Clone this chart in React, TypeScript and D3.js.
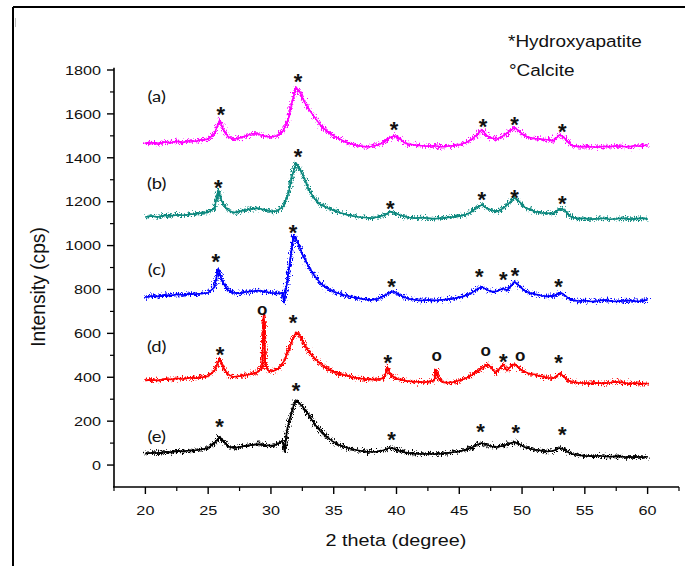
import React from 'react';
import * as d3 from 'd3';

// ---------- data ----------
const X_TICKS = [20, 25, 30, 35, 40, 45, 50, 55, 60];
const Y_TICKS = [0, 200, 400, 600, 800, 1000, 1200, 1400, 1600, 1800];
const SERIES_NAMES = ['(a)', '(b)', '(c)', '(d)', '(e)'];
const SERIES_COLORS = ['#ff00ff', '#0b887e', '#0000ff', '#ff0000', '#000000'];

const seriesA: [number, number][] = [
  [20, 1465], [20.5, 1470], [21, 1462], [21.5, 1472], [22, 1468], [22.5, 1475], [23, 1470], [23.5, 1478], [24, 1475], [24.5, 1482],
  [25, 1485], [25.5, 1510], [25.9, 1570], [26.2, 1530], [26.6, 1495], [27, 1485], [27.5, 1490], [28, 1500], [28.5, 1510], [29, 1508],
  [29.5, 1498], [30, 1495], [30.5, 1500], [31, 1525], [31.4, 1580], [31.7, 1660], [32, 1720], [32.3, 1700], [32.7, 1650], [33.1, 1615],
  [33.6, 1575], [34, 1545], [34.5, 1520], [35, 1500], [35.5, 1485], [36, 1470], [36.5, 1462], [37, 1455], [37.5, 1450], [38, 1452],
  [38.5, 1458], [39, 1470], [39.4, 1490], [39.8, 1500], [40.2, 1490], [40.6, 1470], [41, 1462], [41.5, 1458], [42, 1455], [42.5, 1452],
  [43, 1455], [43.5, 1450], [44, 1452], [44.5, 1455], [45, 1460], [45.5, 1468], [46, 1485], [46.4, 1505], [46.8, 1528], [47.2, 1500],
  [47.6, 1490], [48, 1485], [48.5, 1500], [49, 1520], [49.4, 1538], [49.8, 1520], [50.2, 1500], [50.6, 1492], [51, 1488], [51.5, 1485],
  [52, 1482], [52.5, 1478], [53, 1505], [53.3, 1495], [53.7, 1470], [54, 1455], [54.5, 1450], [55, 1452], [55.5, 1450], [56, 1448],
  [56.5, 1452], [57, 1450], [57.5, 1455], [58, 1452], [58.5, 1450], [59, 1455], [59.5, 1452], [60, 1460],
];

const seriesB: [number, number][] = [
  [20, 1130], [20.5, 1135], [21, 1130], [21.5, 1138], [22, 1135], [22.5, 1140], [23, 1138], [23.5, 1142], [24, 1145], [24.5, 1148],
  [25, 1152], [25.5, 1170], [25.8, 1250], [26.1, 1200], [26.5, 1165], [27, 1150], [27.5, 1155], [28, 1162], [28.5, 1168], [29, 1170],
  [29.5, 1162], [30, 1155], [30.5, 1158], [31, 1180], [31.4, 1240], [31.7, 1320], [32, 1375], [32.3, 1350], [32.7, 1300], [33.1, 1245],
  [33.6, 1205], [34, 1185], [34.5, 1172], [35, 1160], [35.5, 1150], [36, 1142], [36.5, 1135], [37, 1130], [37.5, 1128], [38, 1125],
  [38.5, 1130], [39, 1138], [39.5, 1155], [39.9, 1148], [40.3, 1138], [41, 1128], [41.5, 1125], [42, 1128], [42.5, 1125], [43, 1122],
  [43.5, 1125], [44, 1128], [44.5, 1130], [45, 1135], [45.5, 1140], [46, 1155], [46.4, 1175], [46.8, 1185], [47.2, 1170], [47.6, 1160],
  [48, 1155], [48.5, 1170], [49, 1195], [49.4, 1218], [49.8, 1200], [50.2, 1175], [50.6, 1165], [51, 1155], [51.5, 1150], [52, 1148],
  [52.5, 1145], [53, 1168], [53.3, 1165], [53.7, 1140], [54, 1128], [54.5, 1122], [55, 1125], [55.5, 1120], [56, 1122], [56.5, 1125],
  [57, 1120], [57.5, 1122], [58, 1125], [58.5, 1120], [59, 1122], [59.5, 1125], [60, 1122],
];

const seriesC: [number, number][] = [
  [20, 765], [20.5, 770], [21, 768], [21.5, 775], [22, 772], [22.5, 778], [23, 775], [23.5, 780], [24, 778], [24.5, 782],
  [25, 785], [25.5, 810], [25.8, 895], [26.1, 840], [26.5, 800], [27, 785], [27.5, 782], [28, 788], [28.5, 792], [29, 795],
  [29.5, 790], [30, 785], [30.5, 782], [30.9, 785], [31.05, 740], [31.2, 800], [31.5, 920], [31.8, 1045], [32.1, 1020], [32.5, 960],
  [33, 905], [33.5, 860], [34, 825], [34.5, 805], [35, 790], [35.5, 780], [36, 772], [36.5, 765], [37, 760], [37.5, 755],
  [38, 752], [38.5, 758], [39, 770], [39.4, 785], [39.8, 790], [40.2, 778], [40.6, 765], [41, 758], [41.5, 752], [42, 750],
  [42.5, 752], [43, 750], [43.5, 752], [44, 755], [44.5, 758], [45, 765], [45.5, 772], [46, 785], [46.5, 805], [46.8, 812],
  [47.2, 798], [47.6, 790], [48, 792], [48.5, 805], [48.8, 795], [49.1, 815], [49.4, 835], [49.8, 815], [50.2, 795], [50.6, 785],
  [51, 778], [51.5, 772], [52, 768], [52.5, 770], [53, 785], [53.3, 778], [53.7, 760], [54, 752], [54.5, 748], [55, 750],
  [55.5, 745], [56, 748], [56.5, 752], [57, 748], [57.5, 745], [58, 748], [58.5, 750], [59, 746], [59.5, 748], [60, 752],
];

const seriesD: [number, number][] = [
  [20, 385], [20.5, 388], [21, 385], [21.5, 392], [22, 390], [22.5, 395], [23, 392], [23.5, 398], [24, 395], [24.5, 400],
  [25, 405], [25.5, 430], [25.9, 485], [26.2, 445], [26.6, 412], [27, 402], [27.5, 405], [28, 410], [28.5, 415], [29, 425],
  [29.3, 445], [29.42, 685], [29.55, 460], [29.8, 430], [30.2, 428], [30.6, 440], [31, 470], [31.4, 520], [31.7, 570], [32, 605],
  [32.3, 590], [32.7, 545], [33.1, 510], [33.6, 480], [34, 460], [34.5, 440], [35, 425], [35.5, 415], [36, 408], [36.5, 400],
  [37, 395], [37.5, 392], [38, 390], [38.5, 392], [39, 395], [39.3, 445], [39.45, 420], [39.8, 400], [40.2, 390], [41, 382],
  [41.5, 380], [42, 378], [42.5, 380], [43, 385], [43.15, 435], [43.35, 395], [43.7, 378], [44, 375], [44.5, 378], [45, 385],
  [45.5, 395], [46, 410], [46.5, 430], [47, 450], [47.3, 458], [47.6, 440], [47.9, 420], [48.2, 440], [48.5, 458], [48.8, 430],
  [49.1, 450], [49.4, 460], [49.7, 445], [50, 430], [50.5, 418], [51, 412], [51.5, 405], [52, 398], [52.5, 395], [53, 418],
  [53.3, 405], [53.7, 385], [54, 378], [54.5, 375], [55, 374], [55.5, 372], [56, 374], [56.5, 372], [57, 375], [57.5, 380],
  [58, 376], [58.5, 372], [59, 374], [59.5, 370], [60, 372],
];

const seriesE: [number, number][] = [
  [20, 52], [20.5, 56], [21, 54], [21.5, 60], [22, 58], [22.5, 64], [23, 62], [23.5, 66], [24, 68], [24.5, 72],
  [25, 78], [25.5, 100], [25.9, 128], [26.2, 110], [26.6, 85], [27, 78], [27.5, 82], [28, 88], [28.5, 92], [29, 95],
  [29.5, 90], [30, 88], [30.5, 95], [30.9, 110], [31.1, 60], [31.25, 150], [31.5, 210], [31.8, 270], [32, 295], [32.3, 280],
  [32.6, 260], [33, 230], [33.5, 185], [34, 150], [34.5, 125], [35, 105], [35.5, 90], [36, 80], [36.5, 72], [37, 66],
  [37.5, 62], [38, 60], [38.5, 62], [39, 68], [39.4, 78], [39.8, 75], [40.2, 65], [40.6, 58], [41, 55], [41.5, 52],
  [42, 50], [42.5, 52], [43, 50], [43.5, 52], [44, 55], [44.5, 58], [45, 62], [45.5, 70], [46, 80], [46.5, 95],
  [46.8, 100], [47.2, 92], [47.6, 85], [48, 82], [48.5, 88], [49, 98], [49.4, 105], [49.8, 95], [50.2, 82], [50.6, 75],
  [51, 70], [51.5, 66], [52, 62], [52.5, 65], [53, 78], [53.3, 72], [53.7, 58], [54, 50], [54.5, 45], [55, 42],
  [55.5, 40], [56, 42], [56.5, 40], [57, 38], [57.5, 40], [58, 38], [58.5, 36], [59, 38], [59.5, 36], [60, 38],
];

const SERIES = [seriesA, seriesB, seriesC, seriesD, seriesE];

// label anchors (angle, intensity)
const NAME_ANCHORS: [number, number][] = [[20.9, 1681], [20.9, 1285], [20.9, 889], [20.9, 542], [20.9, 128]];

// hydroxyapatite (*) markers, (angle, intensity)
const HAP_MARKERS: [number, number][] = [
  [26.0, 1617], [32.15, 1768], [39.8, 1549], [46.9, 1563], [49.4, 1572], [53.2, 1540],
  [25.8, 1285], [32.15, 1426], [39.5, 1189], [46.8, 1230], [49.4, 1239], [53.2, 1212],
  [25.6, 948], [31.75, 1080], [39.6, 834], [46.6, 879], [48.5, 866], [49.45, 884], [52.9, 834],
  [25.95, 524], [31.75, 670], [39.3, 488], [48.5, 492], [52.9, 488],
  [25.9, 196], [32.0, 360], [39.6, 137], [46.7, 173], [49.5, 169], [53.2, 160],
];
// calcite (o) markers
const CAL_MARKERS: [number, number][] = [[29.3, 706], [43.2, 497], [47.1, 519], [49.85, 497]];

const LEGEND_LINES = ['*Hydroxyapatite', '°Calcite'];
const X_TITLE = '2 theta (degree)';
const Y_TITLE = 'Intensity (cps)';

// ---------- chart ----------
const W = 685;
const H = 566;
const FONT = '"Liberation Sans", Arial, sans-serif';
const SX = 1.2; // horizontal stretch of the source figure's text

function SText(props: {
  x: number; y: number; size: number; anchor?: string; children: React.ReactNode;
  weight?: string | number; family?: string; fill?: string; sx?: number;
}) {
  const { x, y, size, anchor = 'start', children, weight = 'normal', family = FONT, fill = '#111', sx = SX } = props;
  return (
    <text transform={`translate(${x},${y}) scale(${sx},1)`} fontSize={size} textAnchor={anchor as any}
      fontFamily={family} fontWeight={weight as any} fill={fill}>
      {children}
    </text>
  );
}

export default function App() {
  const x = d3.scaleLinear().domain([17.5, 62.5]).range([114, 679]);
  const y = d3.scaleLinear().domain([-100, 1800]).range([487, 70]);
  const line = d3.line<[number, number]>().x(d => x(d[0])).y(d => y(d[1])).curve(d3.curveLinear);

  const xMinor = d3.range(17.5, 62.51, 2.5).filter(v => X_TICKS.indexOf(v) < 0);
  const yMinor = d3.range(100, 1800, 200);

  return (
    <svg width={W} height={H} style={{ position: 'absolute', left: 0, top: 0, background: '#fff' }}>
      <defs>
        <filter id="jit1" filterUnits="userSpaceOnUse" x={0} y={0} width={W} height={H}>
          <feTurbulence type="fractalNoise" baseFrequency="1.2 0.35" numOctaves={2} seed={4} result="n" />
          <feDisplacementMap in="SourceGraphic" in2="n" scale={11} xChannelSelector="R" yChannelSelector="G" />
        </filter>
        <filter id="jit2" filterUnits="userSpaceOnUse" x={0} y={0} width={W} height={H}>
          <feTurbulence type="fractalNoise" baseFrequency="1.5 0.5" numOctaves={2} seed={11} result="n" />
          <feDisplacementMap in="SourceGraphic" in2="n" scale={9} xChannelSelector="R" yChannelSelector="G" />
        </filter>
      </defs>
      <rect x={0} y={0} width={W} height={H} fill="#fff" />
      {/* page frame */}
      <line x1={13} y1={7} x2={W} y2={7} stroke="#000" strokeWidth={2} />
      <line x1={13} y1={7} x2={13} y2={H} stroke="#000" strokeWidth={2} />
      <line x1={15.5} y1={18} x2={15.5} y2={27} stroke="#bbb" strokeWidth={1} />

      {/* series */}
      {SERIES.map((s, i) => (
        <g key={i}>
          <path d={line(s) || ''} fill="none" stroke={SERIES_COLORS[i]} strokeWidth={1.5} strokeLinejoin="round" />
          <path d={line(s) || ''} fill="none" stroke={SERIES_COLORS[i]} strokeWidth={1.6} filter="url(#jit1)" />
          <path d={line(s) || ''} fill="none" stroke={SERIES_COLORS[i]} strokeWidth={1.4} filter="url(#jit2)" />
        </g>
      ))}

      {/* axes */}
      <line x1={114} y1={y(1810)} x2={114} y2={487} stroke="#000" strokeWidth={1.6} />
      <line x1={113} y1={487} x2={679} y2={487} stroke="#000" strokeWidth={1.6} />
      {Y_TICKS.map(v => (
        <g key={'yt' + v}>
          <line x1={107} x2={114} y1={y(v)} y2={y(v)} stroke="#000" strokeWidth={1.4} />
          <SText x={101} y={y(v) + 4.8} size={13.5} anchor="end">{v}</SText>
        </g>
      ))}
      {yMinor.map(v => (
        <line key={'ym' + v} x1={110} x2={114} y1={y(v)} y2={y(v)} stroke="#000" strokeWidth={1.2} />
      ))}
      {X_TICKS.map(v => (
        <g key={'xt' + v}>
          <line x1={x(v)} x2={x(v)} y1={487} y2={494} stroke="#000" strokeWidth={1.4} />
          <SText x={x(v)} y={515} size={13.5} anchor="middle">{v}</SText>
        </g>
      ))}
      {xMinor.map(v => (
        <line key={'xm' + v} x1={x(v)} x2={x(v)} y1={487} y2={491} stroke="#000" strokeWidth={1.2} />
      ))}

      {/* titles */}
      <SText x={396} y={546} size={16.5} anchor="middle">{X_TITLE}</SText>
      <text transform={`translate(45,${287}) rotate(-90) scale(1.1,1.2)`} fontSize={17.5} textAnchor="middle"
        fontFamily={FONT} fill="#111">{Y_TITLE}</text>

      {/* series names */}
      {SERIES_NAMES.map((n, i) => (
        <SText key={n} x={x(NAME_ANCHORS[i][0])} y={y(NAME_ANCHORS[i][1]) + 5.5} size={16} anchor="middle"
          family='Lato, "Open Sans", sans-serif' sx={1.15}>{n}</SText>
      ))}

      {/* markers */}
      {HAP_MARKERS.map((m, i) => (
        <text key={'h' + i} x={x(m[0])} y={y(m[1]) + 12} fontSize={22} fontWeight="bold" textAnchor="middle"
          fontFamily={FONT} fill="#111">*</text>
      ))}
      {CAL_MARKERS.map((m, i) => (
        <text key={'c' + i} x={x(m[0])} y={y(m[1]) + 5} fontSize={17} fontWeight="bold" textAnchor="middle"
          fontFamily={FONT} fill="#111">o</text>
      ))}

      {/* legend */}
      <SText x={508} y={47} size={16.5} sx={1.15}>{LEGEND_LINES[0]}</SText>
      <SText x={509} y={76} size={16.5} sx={1.15}>{LEGEND_LINES[1]}</SText>
    </svg>
  );
}
